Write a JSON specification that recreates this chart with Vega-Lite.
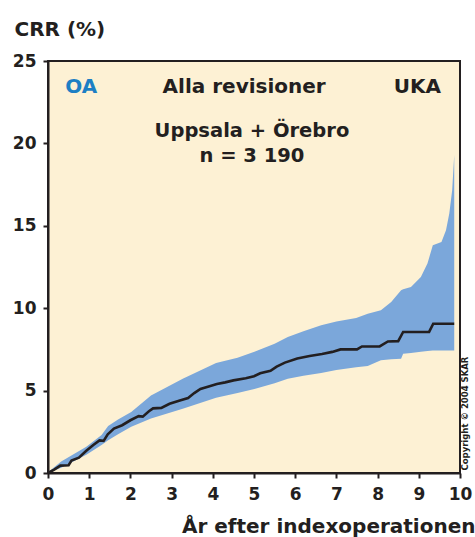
{
  "$schema": "https://vega.github.io/schema/vega-lite/v6.json",
  "autosize": "none",
  "padding": {"left": 48, "top": 61, "right": 15, "bottom": 64},
  "width": 412,
  "height": 412,
  "background": "#ffffff",
  "config": {
    "view": {"fill": "#FDF1D4", "stroke": "#231F20", "strokeWidth": 2},
    "font": "DejaVu Sans",
    "axis": {
      "domainColor": "#231F20", "domainWidth": 2, "tickColor": "#231F20", "tickWidth": 2, "tickSize": 5,
      "labelFont": "DejaVu Sans", "labelFontWeight": "bold", "labelFontSize": 17, "labelColor": "#231F20",
      "titleFont": "DejaVu Sans", "titleFontWeight": "bold", "titleColor": "#231F20", "grid": false, "labelFlush": false
    }
  },
  "datasets": {
    "crr": [
      {"t": 0, "v": 0}, {"t": 0.15, "v": 0.2}, {"t": 0.3, "v": 0.45}, {"t": 0.5, "v": 0.47}, {"t": 0.57, "v": 0.75},
      {"t": 0.75, "v": 0.93}, {"t": 0.93, "v": 1.35}, {"t": 1.1, "v": 1.7}, {"t": 1.25, "v": 1.98}, {"t": 1.35, "v": 1.95},
      {"t": 1.45, "v": 2.35}, {"t": 1.6, "v": 2.7}, {"t": 1.8, "v": 2.9}, {"t": 2.0, "v": 3.2}, {"t": 2.2, "v": 3.45},
      {"t": 2.3, "v": 3.42}, {"t": 2.45, "v": 3.75}, {"t": 2.55, "v": 3.92}, {"t": 2.75, "v": 3.95}, {"t": 2.95, "v": 4.2},
      {"t": 3.2, "v": 4.4}, {"t": 3.4, "v": 4.55}, {"t": 3.55, "v": 4.85}, {"t": 3.7, "v": 5.1}, {"t": 3.9, "v": 5.25},
      {"t": 4.1, "v": 5.4}, {"t": 4.3, "v": 5.5}, {"t": 4.5, "v": 5.62}, {"t": 4.8, "v": 5.75}, {"t": 5.0, "v": 5.87},
      {"t": 5.15, "v": 6.05}, {"t": 5.4, "v": 6.2}, {"t": 5.55, "v": 6.45}, {"t": 5.75, "v": 6.7}, {"t": 6.05, "v": 6.95},
      {"t": 6.35, "v": 7.1}, {"t": 6.65, "v": 7.22}, {"t": 6.9, "v": 7.35}, {"t": 7.1, "v": 7.5}, {"t": 7.5, "v": 7.5},
      {"t": 7.62, "v": 7.68}, {"t": 8.05, "v": 7.68}, {"t": 8.25, "v": 7.98}, {"t": 8.5, "v": 8.0}, {"t": 8.62, "v": 8.56},
      {"t": 9.25, "v": 8.56}, {"t": 9.35, "v": 9.06}, {"t": 9.86, "v": 9.06}
    ],
    "band": [
      {"t": 0, "u": 0.05, "l": 0}, {"t": 0.32, "u": 0.7, "l": 0.32}, {"t": 0.93, "u": 1.6, "l": 1.11},
      {"t": 1.3, "u": 2.3, "l": 1.7}, {"t": 1.46, "u": 2.85, "l": 1.98}, {"t": 1.7, "u": 3.25, "l": 2.35},
      {"t": 2.02, "u": 3.7, "l": 2.8}, {"t": 2.5, "u": 4.7, "l": 3.3}, {"t": 3.27, "u": 5.72, "l": 3.9},
      {"t": 4.08, "u": 6.67, "l": 4.57}, {"t": 4.6, "u": 7.0, "l": 4.85}, {"t": 5.01, "u": 7.35, "l": 5.1},
      {"t": 5.5, "u": 7.85, "l": 5.45}, {"t": 5.82, "u": 8.25, "l": 5.72}, {"t": 6.2, "u": 8.6, "l": 5.9},
      {"t": 6.63, "u": 8.96, "l": 6.07}, {"t": 7.0, "u": 9.2, "l": 6.25}, {"t": 7.48, "u": 9.4, "l": 6.42},
      {"t": 7.76, "u": 9.67, "l": 6.5}, {"t": 8.08, "u": 9.87, "l": 6.84}, {"t": 8.33, "u": 10.38, "l": 6.9},
      {"t": 8.57, "u": 11.09, "l": 6.94}, {"t": 8.62, "u": 11.15, "l": 7.24}, {"t": 8.81, "u": 11.29, "l": 7.28},
      {"t": 9.05, "u": 11.9, "l": 7.35}, {"t": 9.21, "u": 12.71, "l": 7.4}, {"t": 9.34, "u": 13.82, "l": 7.44},
      {"t": 9.55, "u": 14.02, "l": 7.44}, {"t": 9.66, "u": 14.73, "l": 7.44}, {"t": 9.74, "u": 15.74, "l": 7.44},
      {"t": 9.81, "u": 17.16, "l": 7.44}, {"t": 9.86, "u": 19.3, "l": 7.44}
    ],
    "labels": [
      {"text": "OA", "x": 0.805, "y": 23.05, "color": "#1D7FC4"},
      {"text": "Alla revisioner", "x": 4.76, "y": 23.05, "color": "#231F20"},
      {"text": "UKA", "x": 8.965, "y": 23.05, "color": "#231F20"}
    ],
    "sub": [
      {"text": "Uppsala + Örebro", "x": 4.95, "y": 20.38},
      {"text": "n = 3 190", "x": 4.95, "y": 18.88}
    ],
    "copy": [{"text": "Copyright © 2004 SKAR", "x": 10.13, "y": 0.15}]
  },
  "layer": [
    {
      "data": {"name": "band"},
      "mark": {"type": "area", "color": "#7BA7DA", "opacity": 1},
      "encoding": {
        "x": {"field": "t", "type": "quantitative", "scale": {"domain": [0, 10], "nice": false},
          "axis": {"values": [0,1,2,3,4,5,6,7,8,9,10], "labelPadding": 8, "title": "År efter indexoperationen",
            "titleFontSize": 20, "titleAnchor": "end", "titleAlign": "right", "titleBaseline": "alphabetic", "titleX": 427, "titleY": 59}},
        "y": {"field": "u", "type": "quantitative", "scale": {"domain": [0, 25], "nice": false},
          "axis": {"values": [0,5,10,15,20,25], "labelPadding": 7, "title": "CRR (%)", "titleFontSize": 20,
            "titleAngle": 0, "titleAlign": "left", "titleBaseline": "alphabetic", "titleX": -34, "titleY": -26}},
        "y2": {"field": "l"}
      }
    },
    {
      "data": {"name": "crr"},
      "mark": {"type": "line", "color": "#231F20", "strokeWidth": 2.6},
      "encoding": {
        "x": {"field": "t", "type": "quantitative", "scale": {"domain": [0, 10], "nice": false}},
        "y": {"field": "v", "type": "quantitative", "scale": {"domain": [0, 25], "nice": false}}
      }
    },
    {
      "data": {"name": "labels"},
      "mark": {"type": "text", "fontWeight": "bold", "baseline": "alphabetic", "align": "center", "fontSize": 20},
      "encoding": {
        "x": {"field": "x", "type": "quantitative", "scale": {"domain": [0, 10], "nice": false}},
        "y": {"field": "y", "type": "quantitative", "scale": {"domain": [0, 25], "nice": false}},
        "text": {"field": "text"},
        "color": {"field": "color", "type": "nominal", "scale": null}
      }
    },
    {
      "data": {"name": "sub"},
      "mark": {"type": "text", "fontWeight": "bold", "baseline": "alphabetic", "align": "center", "fontSize": 19.5, "color": "#231F20"},
      "encoding": {
        "x": {"field": "x", "type": "quantitative", "scale": {"domain": [0, 10], "nice": false}},
        "y": {"field": "y", "type": "quantitative", "scale": {"domain": [0, 25], "nice": false}},
        "text": {"field": "text"}
      }
    },
    {
      "data": {"name": "copy"},
      "mark": {"type": "text", "fontWeight": "bold", "angle": 270, "align": "left", "baseline": "middle", "fontSize": 8.5, "color": "#231F20"},
      "encoding": {
        "x": {"field": "x", "type": "quantitative", "scale": {"domain": [0, 10], "nice": false}},
        "y": {"field": "y", "type": "quantitative", "scale": {"domain": [0, 25], "nice": false}},
        "text": {"field": "text"}
      }
    }
  ]
}
